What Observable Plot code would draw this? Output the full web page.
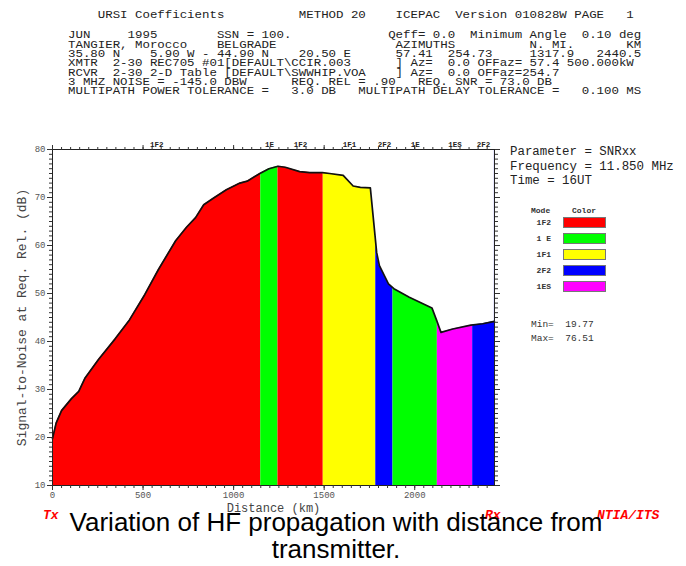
<!DOCTYPE html>
<html><head><meta charset="utf-8">
<script src="https://cdn.jsdelivr.net/npm/d3@7"></script>
<script src="https://cdn.jsdelivr.net/npm/@observablehq/plot@0.6"></script>
<style>
body{margin:0;background:#fff;}
#wrap{position:relative;width:686px;height:566px;overflow:hidden;background:#fff;}
#wrap svg{position:absolute;left:0;top:0;}
.t{position:absolute;white-space:pre;}
.sw{position:absolute;box-sizing:border-box;border:1px solid #777;}
</style></head><body><div id="wrap"></div>
<script>
const sp = n => " ".repeat(n);
const headerLines = [
  sp(4) + "URSI Coefficients" + sp(10) + "METHOD 20" + sp(4) + "ICEPAC  Version 010828W PAGE   1",
  "JUN" + sp(5) + "1995" + sp(8) + "SSN = 100." + sp(13) + "Qeff= 0.0" + sp(2) + "Minimum Angle  0.10 deg",
  "TANGIER, Morocco" + sp(4) + "BELGRADE" + sp(16) + "AZIMUTHS" + sp(10) + "N. MI." + sp(7) + "KM",
  "35.80 N" + sp(4) + "5.90 W - 44.90 N" + sp(4) + "20.50 E" + sp(6) + "57.41" + sp(2) + "254.73" + sp(5) + "1317.9" + sp(3) + "2440.5",
  "XMTR  2-30 REC705 #01[DEFAULT\\CCIR.003" + sp(6) + "] Az=  0.0 OFFaz= 57.4 500.000kW",
  "RCVR  2-30 2-D Table [DEFAULT\\SWWHIP.VOA" + sp(4) + "] Az=  0.0 OFFaz=254.7",
  "3 MHZ NOISE = -145.0 DBW" + sp(6) + "REQ. REL = .90" + sp(3) + "REQ. SNR = 73.0 DB",
  "MULTIPATH POWER TOLERANCE =" + sp(3) + "3.0 DB" + sp(3) + "MULTIPATH DELAY TOLERANCE =" + sp(3) + "0.100 MS"
];
const legendInfo = ["Parameter = SNRxx", "Frequency = 11.850 MHz", "Time = 16UT"];
const minMax = ["Min=  19.77", "Max=  76.51"];
const captionLines = ["Variation of HF propagation with distance from", "transmitter."];

// SNR curve (distance km, SNR dB)
const distanceKm = [0, 20, 50, 105, 145, 180, 255, 345, 425, 510, 585, 680, 740, 790, 835, 890, 960, 1035, 1075, 1145, 1195, 1245, 1285, 1365, 1420, 1490, 1530, 1605, 1660, 1700, 1755, 1790, 1805, 1855, 1885, 1970, 2095, 2120, 2145, 2210, 2310, 2375, 2440];
const snrDb =      [19.77, 23.0, 25.6, 28.1, 29.6, 32.4, 36.3, 40.5, 44.5, 49.8, 55.0, 61.0, 63.8, 65.8, 68.5, 69.9, 71.6, 73.0, 73.4, 75.0, 76.0, 76.51, 76.3, 75.4, 75.2, 75.2, 75.0, 74.6, 72.4, 72.1, 72.0, 58.5, 55.8, 52.0, 51.0, 49.2, 47.0, 44.5, 41.9, 42.6, 43.4, 43.7, 44.2];

// mode segments along the path
const segStart = [0, 1150, 1245, 1495, 1785, 1880, 2125, 2320];
const segEnd   = [1150, 1245, 1495, 1785, 1880, 2125, 2320, 2440.5];
const segMode  = ["1F2", "1 E", "1F2", "1F1", "2F2", "1 E", "1ES", "2F2"];

const modes = ["1F2", "1 E", "1F1", "2F2", "1ES"];
const modeColors = ["#ff0000", "#00ff00", "#ffff00", "#0000ff", "#ff00ff"];

const xTicks = [0, 500, 1000, 1500, 2000];
const xMinor = d3.range(0, 2441, 50);
const yTicks = [10, 20, 30, 40, 50, 60, 70, 80];
const yMinor = d3.range(10, 81, 1);

const curve = distanceKm.map((d, i) => ({km: d, snr: snrDb[i]}));
const segs = segStart.map((s, i) => ({start: s, end: segEnd[i], mode: segMode[i]}));

const mono = '"Liberation Mono", "DejaVu Sans Mono", monospace';
const tickStroke = "#333";
const chart = Plot.plot({
  width: 686, height: 566,
  marginLeft: 52, marginRight: 192, marginTop: 149, marginBottom: 81,
  x: {domain: [0, 2440.5]},
  y: {domain: [10, 80]},
  color: {domain: modes, range: modeColors},
  style: {fontFamily: mono, background: "white", overflow: "visible"},
  marks: [
    Plot.rectY(segs, {x1: "start", x2: "end", y1: 10, y2: 80, fill: "mode"}),
    Plot.areaY(curve, {x: "km", y1: "snr", y2: 80, fill: "white"}),
    Plot.line(curve, {x: "km", y: "snr", stroke: "#111", strokeWidth: 1.7}),
    Plot.frame({stroke: "#222"}),
    Plot.axisX({anchor: "bottom", ticks: xTicks, tickSize: 5, tickPadding: 1, fontSize: 9, fill: "#555", stroke: tickStroke, tickFormat: d => String(d), label: null}),
    Plot.axisX({anchor: "bottom", ticks: xMinor, tickSize: 3, fill: "none", stroke: tickStroke, label: null}),
    Plot.axisX({anchor: "top", ticks: xTicks, tickSize: 5, fill: "none", stroke: tickStroke, label: null}),
    Plot.axisX({anchor: "top", ticks: xMinor, tickSize: 3, fill: "none", stroke: tickStroke, label: null}),
    Plot.axisY({anchor: "left", ticks: yTicks, tickSize: 5, tickPadding: 2, fontSize: 9, fill: "#555", stroke: tickStroke, tickFormat: d => String(d), label: null}),
    Plot.axisY({anchor: "left", ticks: yMinor, tickSize: 3, fill: "none", stroke: tickStroke, label: null}),
    Plot.axisY({anchor: "right", ticks: yTicks, tickSize: 5, fill: "none", stroke: tickStroke, label: null}),
    Plot.axisY({anchor: "right", ticks: yMinor, tickSize: 3, fill: "none", stroke: tickStroke, label: null}),
    Plot.text(segs, {x: d => (d.start + d.end) / 2, frameAnchor: "top", dy: -8, text: d => d.mode.replace(" ", ""), fontSize: 7.5, fontWeight: "bold", fill: "#222"}),
    Plot.text(["Signal-to-Noise at Req. Rel. (dB)"], {frameAnchor: "left", textAnchor: "middle", dx: -31, rotate: -90, fontSize: 13, fill: "#444"}),
    Plot.text(["Distance (km)"], {frameAnchor: "bottom", dy: 26, fontSize: 12, fill: "#444"})
  ]
});
const wrap = document.getElementById("wrap");
wrap.appendChild(chart);

function addText(str, x, baseline, size, o = {}) {
  const d = document.createElement("div");
  d.className = "t";
  d.textContent = str;
  const ratio = o.sans ? 0.8465 : 0.7665;
  const fam = o.sans ? '"Liberation Sans", Arial, sans-serif' : mono;
  let css = `top:${baseline - ratio * size}px;font-size:${size}px;line-height:${size}px;font-family:${fam};color:${o.color || "#1a1a1a"};font-weight:${o.weight || "normal"};font-style:${o.style || "normal"};`;
  if (o.align === "right") css += `right:${686 - x}px;text-align:right;`;
  else if (o.align === "center") css += `left:${x - 400}px;width:800px;text-align:center;`;
  else css += `left:${x}px;`;
  if (o.squash) css += `transform:scaleY(${o.squash});transform-origin:0 ${ratio * size}px;`;
  d.style.cssText = css;
  wrap.appendChild(d);
}

// header
const headerBase = [19, 39, 48.5, 58, 67, 76.5, 86, 95];
headerLines.forEach((l, i) => addText(l, 68, headerBase[i], 12.42, {squash: 0.85, color: "#222"}));

// legend info
legendInfo.forEach((l, i) => addText(l, 510, 156 + i * 14.5, 12.42, {color: "#222"}));
addText("Mode", 531, 213, 8, {weight: "bold", color: "#333"});
addText("Color", 572, 213, 8, {weight: "bold", color: "#333"});
modes.forEach((m, i) => {
  const top = 216.5 + i * 16;
  const s = document.createElement("div");
  s.className = "sw";
  s.style.cssText = `left:563px;top:${top}px;width:43px;height:11px;background:${modeColors[i]};`;
  wrap.appendChild(s);
  addText(m, 551, top + 8.5, 8, {weight: "bold", color: "#333", align: "right"});
});
minMax.forEach((l, i) => addText(l, 531, 327 + i * 14.5, 9.5, {color: "#333"}));

// Tx / Rx / NTIA
addText("Tx", 43, 519, 13, {weight: "bold", style: "italic", color: "#ff0000"});
addText("Rx", 485, 519, 13, {weight: "bold", style: "italic", color: "#ff0000"});
addText("NTIA/ITS", 597, 519, 13, {weight: "bold", style: "italic", color: "#ff0000"});

// caption
captionLines.forEach((l, i) => addText(l, 336, 531 + i * 27, 26, {sans: true, color: "#000", align: "center"}));
</script></body></html>
